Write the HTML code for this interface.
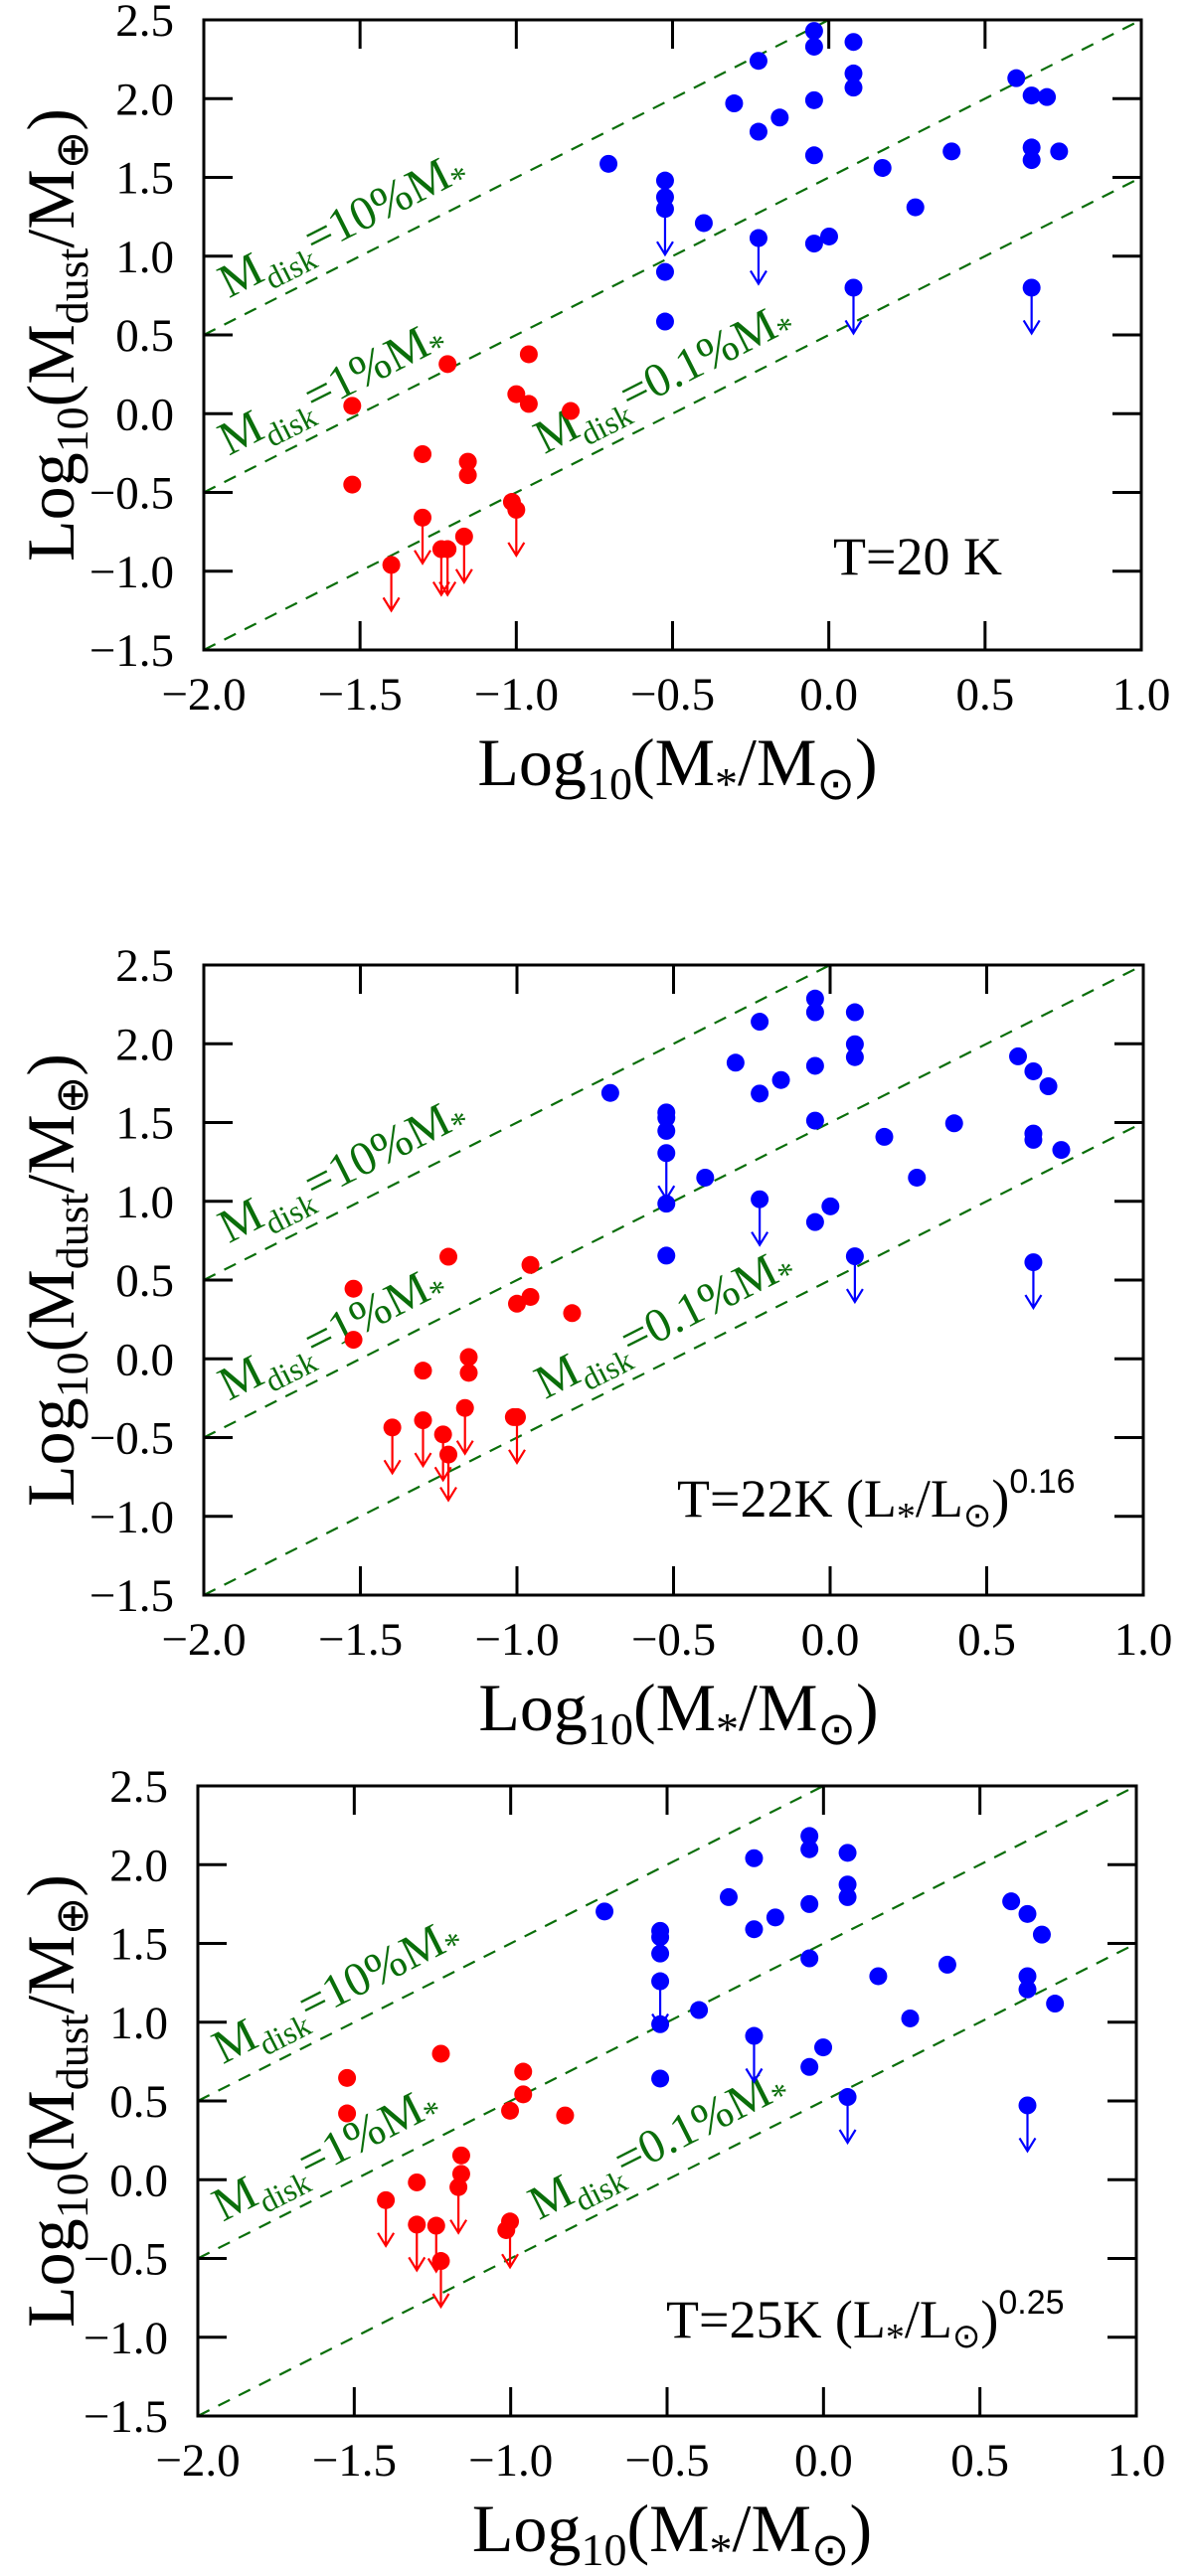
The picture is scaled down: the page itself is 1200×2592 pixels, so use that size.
<!DOCTYPE html>
<html><head><meta charset="utf-8"><title>Dust mass vs stellar mass</title>
<style>
html,body{margin:0;padding:0;background:#fff;}
svg{display:block;}
text{font-family:"Liberation Serif",serif;}
</style></head>
<body>
<svg id="fig" width="1200" height="2592" viewBox="0 0 1200 2592" xmlns="http://www.w3.org/2000/svg"></svg>
<script>
// ---------- Data ----------
const xTicks = [-2.0, -1.5, -1.0, -0.5, 0.0, 0.5, 1.0];
const xTickLabels = ["−2.0", "−1.5", "−1.0", "−0.5", "0.0", "0.5", "1.0"];
const yTicks = [2.5, 2.0, 1.5, 1.0, 0.5, 0.0, -0.5, -1.0, -1.5];
const yTickLabels = ["2.5", "2.0", "1.5", "1.0", "0.5", "0.0", "−0.5", "−1.0", "−1.5"];
const diskFractions = [2.5, 1.5, 0.5]; // log offsets: 10%, 1%, 0.1%
const diskLabels = ["10%", "1%", "0.1%"];
const diskLabelX = [-1.92, -1.92, -0.91];

// Panel 1 (T=20 K)
const p1BlueX = [-0.705,-0.524,-0.524,-0.524,-0.524,-0.524,-0.40,-0.303,-0.225,-0.225,-0.225,-0.157,-0.047,-0.047,-0.047,-0.047,-0.047,0.001,0.079,0.079,0.079,0.079,0.172,0.277,0.393,0.60,0.649,0.649,0.649,0.649,0.698,0.737];
const p1BlueY = [1.586,1.48,1.375,1.30,0.90,0.585,1.21,1.97,2.24,1.79,1.115,1.88,2.43,2.33,1.99,1.64,1.08,1.125,2.36,2.16,2.07,0.80,1.56,1.31,1.665,2.13,2.02,1.69,1.61,0.80,2.01,1.665];
const p1BlueLim = [0,0,0,1,0,0,0,0,0,0,1,0,0,0,0,0,0,0,0,0,0,1,0,0,0,0,0,0,0,1,0,0];
const p1RedX = [-1.525,-1.525,-1.40,-1.30,-1.30,-1.24,-1.22,-1.22,-1.167,-1.155,-1.155,-1.014,-1.0,-1.0,-0.96,-0.96,-0.826];
const p1RedY = [0.05,-0.45,-0.96,-0.257,-0.66,-0.86,-0.86,0.315,-0.78,-0.305,-0.39,-0.56,-0.61,0.124,0.377,0.062,0.017];
const p1RedLim = [0,0,1,0,1,1,1,0,1,0,0,0,1,0,0,0,0];

// Panel 2 (T=22K (L/Lsun)^0.16)
const p2BlueX = [-0.702,-0.523,-0.523,-0.523,-0.523,-0.523,-0.523,-0.399,-0.302,-0.225,-0.225,-0.225,-0.157,-0.048,-0.048,-0.048,-0.048,-0.048,0.001,0.079,0.079,0.079,0.079,0.173,0.277,0.396,0.60,0.649,0.649,0.649,0.649,0.697,0.738];
const p2BlueY = [1.688,1.564,1.53,1.447,1.306,0.985,0.655,1.15,1.88,2.14,1.684,1.013,1.77,2.287,2.2,1.86,1.512,0.868,0.968,2.2,1.997,1.915,0.651,1.409,1.15,1.495,1.92,1.825,1.43,1.39,0.613,1.73,1.326];
const p2BlueLim = [0,0,0,0,1,0,0,0,0,0,0,1,0,0,0,0,0,0,0,0,0,0,1,0,0,0,0,0,0,0,1,0,0];
const p2RedX = [-1.522,-1.522,-1.398,-1.30,-1.30,-1.236,-1.219,-1.219,-1.166,-1.154,-1.154,-1.01,-1.0,-1.0,-0.957,-0.957,-0.824];
const p2RedY = [0.445,0.121,-0.436,-0.075,-0.39,-0.48,0.648,-0.608,-0.312,0.011,-0.089,-0.37,-0.37,0.35,0.596,0.393,0.29];
const p2RedLim = [0,0,1,0,1,1,0,1,1,0,0,0,1,0,0,0,0];

// Panel 3 (T=25K (L/Lsun)^0.25)
const p3BlueX = [-0.70,-0.522,-0.522,-0.522,-0.522,-0.522,-0.522,-0.398,-0.303,-0.222,-0.222,-0.222,-0.154,-0.045,-0.045,-0.045,-0.045,-0.045,-0.001,0.077,0.077,0.077,0.077,0.175,0.277,0.396,0.60,0.652,0.652,0.652,0.652,0.698,0.74];
const p3BlueY = [1.703,1.58,1.54,1.436,1.26,0.987,0.642,1.077,1.794,2.041,1.59,0.913,1.665,2.182,2.098,1.75,1.405,0.716,0.84,2.075,1.874,1.794,0.525,1.292,1.024,1.365,1.767,1.687,1.292,1.208,0.472,1.556,1.118];
const p3BlueLim = [0,0,0,0,1,0,0,0,0,0,0,1,0,0,0,0,0,0,0,0,0,0,1,0,0,0,0,0,0,0,1,0,0];
const p3RedX = [-1.523,-1.523,-1.399,-1.30,-1.30,-1.238,-1.223,-1.223,-1.167,-1.158,-1.158,-1.014,-1.002,-1.002,-0.96,-0.96,-0.826];
const p3RedY = [0.646,0.421,-0.13,-0.017,-0.285,-0.292,0.80,-0.516,-0.047,0.154,0.037,-0.32,-0.265,0.438,0.686,0.542,0.408];
const p3RedLim = [0,0,1,0,1,1,0,1,1,0,0,0,1,0,0,0,0];

// ---------- Drawing ----------
const NS = "http://www.w3.org/2000/svg";
const svg = document.getElementById("fig");
const GREEN = "#0a6e0a";

function mk(tag, attrs, parent) {
  const e = document.createElementNS(NS, tag);
  for (const k in attrs) e.setAttribute(k, attrs[k]);
  parent.appendChild(e);
  return e;
}

const panels = [
  {id:1, left:205, right:1148, top:20, bottom:654, bx:p1BlueX, by:p1BlueY, bl:p1BlueLim, rx:p1RedX, ry:p1RedY, rl:p1RedLim, temp:"T=20 K", sup:"", annX:838, annY:578},
  {id:2, left:205, right:1150, top:971, bottom:1605, bx:p2BlueX, by:p2BlueY, bl:p2BlueLim, rx:p2RedX, ry:p2RedY, rl:p2RedLim, temp:"T=22K", sup:"0.16", annX:681, annY:1526},
  {id:3, left:199, right:1143, top:1797, bottom:2431, bx:p3BlueX, by:p3BlueY, bl:p3BlueLim, rx:p3RedX, ry:p3RedY, rl:p3RedLim, temp:"T=25K", sup:"0.25", annX:670, annY:2352}
];

panels.forEach(p => {
  const g = mk("g", {}, svg);
  
  
  const X = v => p.left + (v + 2) / 3 * (p.right - p.left);
  const Y = v => p.top + (2.5 - v) / 4 * (p.bottom - p.top);

  const clipId = "clip" + p.id;
  const cp = mk("clipPath", {id: clipId}, g);
  mk("rect", {x:p.left, y:p.top, width:p.right-p.left, height:p.bottom-p.top}, cp);

  diskFractions.forEach((off, i) => {
    const ln = mk("line", {x1:X(-2), y1:Y(-2+off), x2:X(1), y2:Y(1+off), stroke:GREEN, "stroke-width":2.2, "stroke-dasharray":"13 10", "clip-path":"url(#"+clipId+")"}, g);
    
    
    const x0 = diskLabelX[i];
    const ax = X(x0), ay = Y(x0 + off) - 24;
    const ang = -Math.atan2(Y(0) - Y(1), X(1) - X(0)) * 180 / Math.PI;
    const t = mk("text", {x:ax, y:ay, fill:GREEN, "font-size":48, transform:"rotate("+ang+" "+ax+" "+ay+")"}, g);
    
    
    t.innerHTML = 'M<tspan font-size="32" dy="12">disk</tspan><tspan dy="-12">=' + diskLabels[i] + 'M</tspan><tspan font-size="34" dy="8">*</tspan>';
  });

  const fr = mk("rect", {x:p.left, y:p.top, width:p.right-p.left, height:p.bottom-p.top, fill:"none", stroke:"#000", "stroke-width":3}, g);
  
  

  xTicks.forEach((v, i) => {
    if (i > 0 && i < xTicks.length - 1) {
      mk("line", {x1:X(v), y1:p.bottom, x2:X(v), y2:p.bottom-29, stroke:"#000", "stroke-width":3}, g);
      mk("line", {x1:X(v), y1:p.top, x2:X(v), y2:p.top+29, stroke:"#000", "stroke-width":3}, g);
    }
    const t = mk("text", {x:X(v), y:p.bottom + 60, "text-anchor":"middle", "font-size":47, fill:"#000"}, g);
    
    
    t.textContent = xTickLabels[i];
  });
  yTicks.forEach((v, i) => {
    if (i > 0 && i < yTicks.length - 1) {
      mk("line", {x1:p.left, y1:Y(v), x2:p.left+29, y2:Y(v), stroke:"#000", "stroke-width":3}, g);
      mk("line", {x1:p.right, y1:Y(v), x2:p.right-29, y2:Y(v), stroke:"#000", "stroke-width":3}, g);
    }
    const t = mk("text", {x:p.left - 30, y:Y(v) + 16, "text-anchor":"end", "font-size":47, fill:"#000"}, g);
    
    
    t.textContent = yTickLabels[i];
  });

  const drawSeries = (xs, ys, lim, color, name) => {
    xs.forEach((xv, i) => {
      const cx = X(xv), cy = Y(ys[i]);
      if (lim[i]) {
        const tip = Y(ys[i] - 0.29);
        const a = mk("path", {d:"M"+cx+" "+cy+" L"+cx+" "+tip+" M"+(cx-8)+" "+(tip-13)+" L"+cx+" "+tip+" L"+(cx+8)+" "+(tip-13), stroke:color, "stroke-width":2.2, fill:"none"}, g);
        
        
      }
      const c = mk("circle", {cx:cx, cy:cy, r:9, fill:color}, g);
      
      
    });
  };
  drawSeries(p.rx, p.ry, p.rl, "#ff0000", "red");
  drawSeries(p.bx, p.by, p.bl, "#0000ff", "blue");

  const ann = mk("text", {x:p.annX, y:p.annY, "font-size":54, fill:"#000"}, g);
  
  
  if (p.sup) {
    ann.innerHTML = p.temp + '  (L<tspan font-size="38" dy="12">*</tspan><tspan dy="-12">/L</tspan><tspan font-size="34" dy="10">⊙</tspan><tspan dy="-10">)</tspan><tspan font-family="Liberation Sans, sans-serif" font-size="34" dy="-24">' + p.sup + '</tspan>';
  } else {
    ann.textContent = p.temp;
  }

  const cyMid = (p.top + p.bottom) / 2;
  const yt = mk("text", {x:0, y:0, "font-size":68, fill:"#000", "text-anchor":"middle", transform:"translate(74 "+cyMid+") rotate(-90)"}, g);
  
  
  yt.innerHTML = 'Log<tspan font-size="46" dy="14">10</tspan><tspan dy="-14">(M</tspan><tspan font-size="46" dy="14">dust</tspan><tspan dy="-14">/M</tspan><tspan font-size="46" dy="14">⊕</tspan><tspan dy="-14">)</tspan>';
  const xt = mk("text", {x:(p.left+p.right)/2 + 5, y:p.top + 770, "font-size":68, fill:"#000", "text-anchor":"middle"}, g);
  
  
  xt.innerHTML = 'Log<tspan font-size="46" dy="14">10</tspan><tspan dy="-14">(M</tspan><tspan font-size="46" dy="14">*</tspan><tspan dy="-14">/M</tspan><tspan font-size="46" dy="14">⊙</tspan><tspan dy="-14">)</tspan>';
});
</script>
</body></html>
